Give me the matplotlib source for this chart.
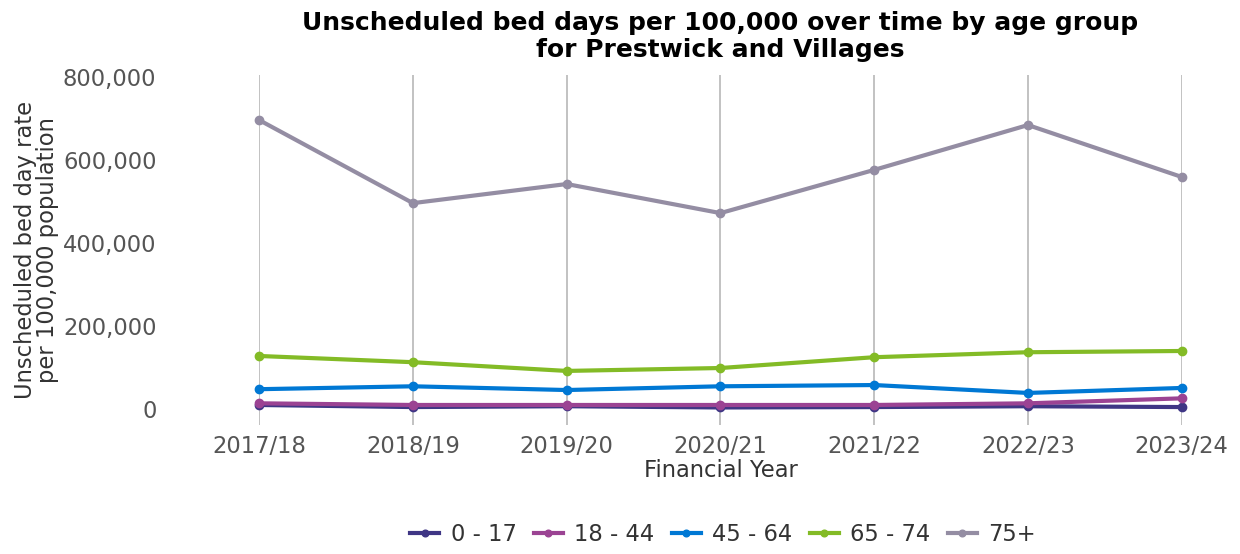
import matplotlib
matplotlib.use("Agg")
import matplotlib.pyplot as plt
from matplotlib.ticker import FuncFormatter

years = ["2017/18", "2018/19", "2019/20", "2020/21", "2021/22", "2022/23", "2023/24"]
age_groups = ["0 - 17", "18 - 44", "45 - 64", "65 - 74", "75+"]
colors = ["#3F3685", "#9B4393", "#0078D4", "#83BB26", "#948DA3"]

rate_0_17 = [10000, 5000, 7000, 4000, 5000, 7000, 5000]
rate_18_44 = [14000, 10000, 10000, 10000, 10000, 14000, 26000]
rate_45_64 = [48000, 55000, 46000, 55000, 58000, 39000, 51000]
rate_65_74 = [128000, 113000, 92000, 99000, 125000, 137000, 140000]
rate_75_plus = [696000, 496000, 542000, 472000, 576000, 684000, 559000]

series = [rate_0_17, rate_18_44, rate_45_64, rate_65_74, rate_75_plus]

fig = plt.figure(figsize=(12.4, 5.54), dpi=100)
ax = fig.add_axes([0.209, 0.233, 0.744, 0.632])

x = list(range(len(years)))
for label, vals, c in zip(age_groups, series, colors):
    ax.plot(x, vals, color=c, linewidth=3, marker="o", markersize=6, label=label,
            clip_on=False)

ax.set_xlim(0, len(years) - 1)
ax.set_ylim(-38000, 805000)
ax.set_xticks(x)
ax.set_xticklabels(years)
ax.set_yticks([0, 200000, 400000, 600000, 800000])
ax.yaxis.set_major_formatter(FuncFormatter(lambda v, p: f"{int(v):,}"))

ax.grid(axis="x", color="#b8b8b8", linewidth=1.2)
ax.grid(axis="y", visible=False)
for s in ax.spines.values():
    s.set_visible(False)
ax.tick_params(length=0, labelsize=16.3, labelcolor="#555555")
ax.tick_params(axis="y", pad=74)
ax.tick_params(axis="x", pad=7)

ax.set_xlabel("Financial Year", fontsize=16.3, color="#333333", labelpad=1)
ax.set_ylabel("Unscheduled bed day rate\nper 100,000 population", fontsize=16.3,
              color="#333333", linespacing=0.95)
ax.yaxis.set_label_coords(-0.217, 0.5)

fig.suptitle("Unscheduled bed days per 100,000 over time by age group\nfor Prestwick and Villages",
             fontsize=18, fontweight="bold", x=0.581, y=0.98, linespacing=1.15)

fig.legend(loc="lower center", ncol=5, frameon=False, fontsize=16.3,
           bbox_to_anchor=(0.583, -0.022), handlelength=1.3, columnspacing=0.75,
           handletextpad=0.5, markerscale=0.8, labelcolor="#333333")

fig.savefig("out.png", dpi=100)
